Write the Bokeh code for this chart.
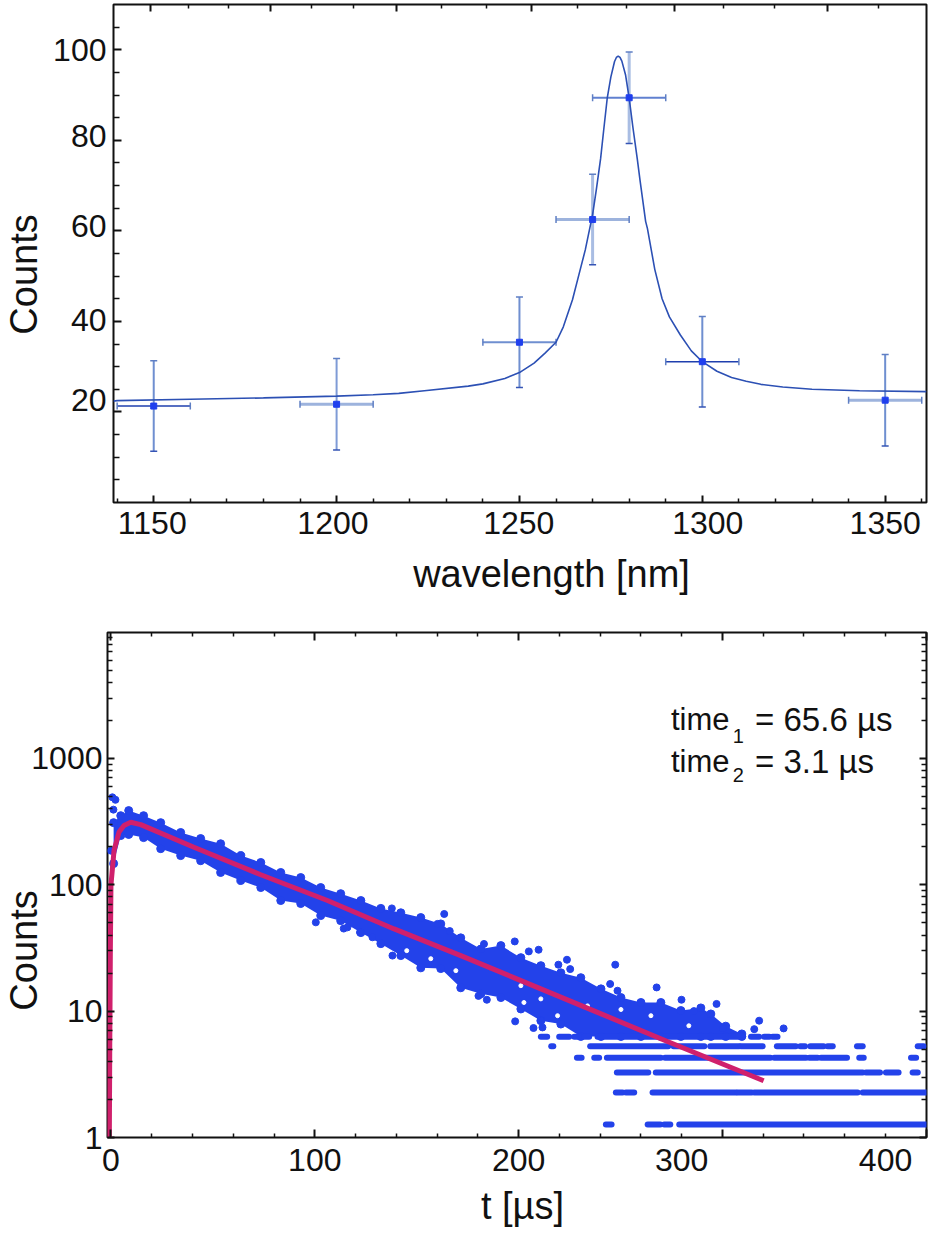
from bokeh.embed import file_html
from bokeh.resources import INLINE
from bokeh.plotting import figure
from bokeh.layouts import column
from bokeh.models import (ColumnDataSource, FixedTicker, LinearAxis, LogAxis, Label, Whisker, TeeHead,
                          BasicTickFormatter, CustomLabelingPolicy)

# ---------- top panel data ----------
wl = [1150, 1200, 1250, 1270, 1280, 1300, 1350]
cnt = [21.3, 21.7, 35.4, 62.5, 89.4, 31.1, 22.6]
cnt_err = [10.0, 10.1, 10.0, 10.0, 10.1, 10.0, 10.1]
wl_err = [10, 10, 10, 10, 10, 10, 10]
fit_wl = [1139, 1140, 1160, 1180, 1200, 1210, 1217, 1224, 1236, 1240, 1246, 1250, 1254, 1257, 1260, 1262, 1264.5, 1266,
          1268, 1270, 1271, 1272.2, 1273, 1274, 1275, 1276, 1276.5, 1277, 1277.5, 1278, 1279, 1280, 1281, 1282.2, 1283, 1284.5,
          1285, 1287, 1289, 1291, 1294, 1297, 1300, 1304, 1308, 1312, 1316, 1322, 1330, 1343, 1361.3]
fit_cnt = [22.4, 22.5, 22.8, 23.1, 23.5, 23.8, 24.1, 24.7, 25.7, 26.2, 27.4, 28.7, 30.8, 33, 35.4, 38.8, 44.8, 49.5,
           55.8, 63.6, 69, 76, 82, 89.3, 94, 97.4, 98.3, 98.6, 98.3, 97.5, 94.5, 89.3, 83, 76, 71, 62.1,
           60.5, 51.5, 45, 41, 37, 33.5, 31.1, 29, 27.6, 26.8, 26.1, 25.5, 25, 24.7, 24.5]
wl_major = [1150, 1200, 1250, 1300, 1350]
wl_minor = [1140, 1160, 1170, 1180, 1190, 1210, 1220, 1230, 1240, 1260, 1270, 1280, 1290, 1310, 1320, 1330, 1340, 1360]
wl_top_major = [1149.1, 1181.9, 1216.4, 1253.3, 1292.4, 1334.3]
wl_top_minor = [1159.5, 1170.4, 1193.1, 1204.6, 1228.7, 1241, 1265.9, 1279.3, 1305.9, 1319.8, 1348.3]
wl_labels = {1149.6: "1150", 1199: "1200", 1249.8: "1250", 1301.5: "1300", 1350: "1350"}
cnt_major = [20, 40, 60, 80, 100]
cnt_minor = [5, 10, 15, 25, 30, 35, 45, 50, 55, 65, 70, 75, 85, 90, 95, 105]
cnt_labels = {100: "100", 81: "80", 61: "60", 40.3: "40", 22.6: "20"}

# ---------- bottom panel data ----------
band_t = [1.3, 4.8, 8.7, 16, 24.4, 34.2, 44, 53.8, 63.7, 73.5, 83.3, 93.1, 102.9, 112.7, 122.6, 132.4, 142.2, 152,
          161.8, 171.6, 181.5, 191.3, 201.1, 210.9, 220.7, 230.5, 240.4, 250.2, 260, 269.8, 279.6, 289.4, 294.3,
          301.6, 309.5]
band_hi = [310, 352, 386, 352, 310, 259, 232, 211, 170, 150, 125, 114, 95, 85, 75, 65, 60, 55,
           49, 38, 31, 33, 26.5, 22.9, 20.1, 18.4, 15, 12.8, 11.7, 11.7, 10.1, 10.6, 9.5, 7.6, 6.6]
band_lo = [147, 245, 250, 236, 193, 170, 155, 125, 108, 95, 75, 71, 57, 52, 41.8, 34.2, 27.5, 22,
           21.7, 15.3, 13.7, 12.8, 10.4, 8.4, 7.9, 6.3, 6.3, 6.3, 6.3, 6.3, 6.3, 6.3, 6.3, 6.3, 6.3]
out_t = [0.7, 2.2, 1.2, 0.0, 100.5, 114.2, 116, 122.2, 128.3, 137.8, 138.1, 160.2, 163.5, 166.2, 180.3, 183, 184.4,
         198.1, 198.3, 205, 207.3, 209.8, 211.7, 219.5, 223.7, 225.3, 244.9, 247.4, 248.5, 267.7, 279.9, 286, 297.1,
         300.1, 315.6, 318, 330]
out_c = [492, 470, 393, 186, 50.4, 45, 46, 42, 38.4, 65, 27.5, 49, 58.7, 43, 13.2, 34, 12.3,
         35.6, 8.3, 29.7, 7.35, 30.6, 7.43, 23.3, 25.5, 21.5, 16.4, 23.3, 14.5, 15.4, 12.3, 10, 11.4,
         7.3, 7.2, 8.4, 7.3]
gap_t = [145.1, 156.9, 169.2, 201.1, 202.6, 210.9, 219.1, 233.8, 250.2, 264.9, 283.5]
gap_c = [30.1, 26, 20.9, 15.9, 11.7, 12.5, 9.2, 11, 10.3, 9.2, 7.66]
row_levels = [1.27, 2.27, 3.27, 4.27, 5.27, 6.27]
row_1 = [(242.8, 245.6), (263.3, 269.5), (271.4, 274.4), (278.8, 400)]
row_2 = [(247.7, 251), (252.6, 256.7), (265.7, 306.6), (307.4, 314.3), (315.6, 366.3), (368.8, 400)]
row_3 = [(248.2, 263.6), (267.3, 368.8), (370.4, 377.3), (380.2, 386.4), (393.3, 395.8)]
row_4 = [(228.6, 230.9), (237.1, 239.5), (243.3, 269.8), (271.8, 323.5), (325.4, 341), (342.6, 346.7), (348.3, 361.1),
         (367.1, 369.3), (392.5, 395)]
row_5 = [(216, 217), (235.1, 273.4), (276, 291.1), (294, 308.2), (309, 319.7), (326.7, 336), (338.2, 340.5), (343.1, 349.6),
         (351.6, 354.1), (366, 368.8), (395.8, 398.7)]
row_6 = [(210.9, 214), (219.9, 224.8), (227.3, 230.5), (232.2, 234.6), (238.7, 309.9), (314, 318), (320.5, 323), (324.6, 327)]
rows = [row_1, row_2, row_3, row_4, row_5, row_6]
red_t = [-0.8, -0.6, -0.3, 0.0, 1.5, 3.9, 6.4, 9.7, 14.6, 40.7, 73.5, 106.2, 138.9, 171.6, 210.9, 238.7, 273, 320.2]
red_c = [1, 5, 30, 100, 186, 260, 294, 312, 299, 198, 120, 75, 44.7, 27.5, 15, 9.77, 5.75, 2.81]
t_major = [0, 100, 200, 300, 400]
t_minor = [20, 40, 60, 80, 120, 140, 160, 180, 220, 240, 260, 280, 320, 340, 360, 380]
t_labels = {0: "0", 100: "100", 200: "200", 280: "300", 380: "400"}
c_major = [1, 10, 100, 1000]
c_minor = [m * d for d in (1, 10, 100, 1000) for m in (2, 3, 4, 5, 6, 7, 8, 9)]
c_labels = {1: "1", 10: "10", 100: "100", 1000: "1000"}
FONT = "Liberation Sans"
BLUE = "#2342ea"
INK = "#111111"

HIDE = CustomLabelingPolicy(code="try { for (const i of [...indices]) indices.unset(i); return indices; } catch (e) { return []; }")


def blank_axis(ax, maj, mnr, maj_len, mnr_len):
    ax.ticker = FixedTicker(ticks=maj, minor_ticks=mnr)
    ax.formatter = BasicTickFormatter()
    ax.major_tick_in = maj_len
    ax.major_tick_out = 0
    ax.minor_tick_in = mnr_len
    ax.minor_tick_out = 0
    ax.major_tick_line_width = 2
    ax.minor_tick_line_width = 1.5
    ax.major_tick_line_color = INK
    ax.minor_tick_line_color = INK
    ax.axis_line_color = None
    ax.major_label_policy = HIDE
    ax.major_label_text_font_size = "1px"
    ax.major_label_standoff = 0


def label_axis(ax, labels, standoff):
    ax.ticker = FixedTicker(ticks=list(labels.keys()))
    ax.formatter = BasicTickFormatter()
    ax.major_label_overrides = labels
    ax.major_tick_line_color = None
    ax.minor_tick_line_color = None
    ax.axis_line_color = None
    ax.major_tick_in = 0
    ax.major_tick_out = 0
    ax.minor_tick_in = 0
    ax.minor_tick_out = 0
    ax.major_label_text_font = FONT
    ax.major_label_text_font_size = "32px"
    ax.major_label_text_color = INK
    ax.major_label_standoff = standoff
    ax.major_label_orientation = "horizontal"


TITLE = dict(text_font=FONT, text_font_size="38px", text_color=INK, text_baseline="middle", text_align="center",
             x_units="canvas", y_units="canvas")

# ---------- top panel ----------
p1 = figure(width=938, height=610, x_range=(1139, 1361.3), y_range=(0, 110), output_backend="svg",
            toolbar_location=None, min_border_left=113, min_border_right=12, min_border_top=3, min_border_bottom=108,
            frame_align=False)
p1.grid.visible = False
p1.outline_line_color = INK
p1.outline_line_width = 2
blank_axis(p1.xaxis[0], wl_major, wl_minor, 7, 4)
blank_axis(p1.yaxis[0], cnt_major, cnt_minor, 8, 6)
top = LinearAxis()
blank_axis(top, wl_top_major, wl_top_minor, 7, 4)
p1.add_layout(top, "above")
xl = LinearAxis()
label_axis(xl, wl_labels, 5)
p1.add_layout(xl, "below")
yl = LinearAxis()
label_axis(yl, cnt_labels, 2)
p1.add_layout(yl, "left")
p1.add_layout(Label(x=551, y=573, text="wavelength [nm]", **TITLE), "below")
p1.add_layout(Label(x=23, y=274, text="Counts", angle=90, angle_units="deg", **TITLE), "left")

src = ColumnDataSource(dict(
    x=wl, y=cnt,
    ylo=[a - b for a, b in zip(cnt, cnt_err)], yhi=[a + b for a, b in zip(cnt, cnt_err)],
    xlo=[a - b for a, b in zip(wl, wl_err)], xhi=[a + b for a, b in zip(wl, wl_err)],
))
src.data["hc"] = ["#1f3fae", "#9db3dd", "#6f8fd0", "#9db3dd", "#6080d0", "#1f3fae", "#9db3dd"]
src.data["hw"] = [1.6, 3, 2, 3, 2, 1.6, 3]
src.data["vc"] = ["#6f8fd0", "#7f9bd6", "#6f8fd0", "#a9bde3", "#a9bde3", "#6f8fd0", "#6f8fd0"]
src.data["vw"] = [2, 2, 2, 3, 3, 2, 2]
p1.add_layout(Whisker(source=src, base="y", lower="xlo", upper="xhi", dimension="width",
                      line_color={"field": "hc"}, line_width={"field": "hw"},
                      upper_head=TeeHead(size=7, line_color="#5f7fc4", line_width=1.5),
                      lower_head=TeeHead(size=7, line_color="#5f7fc4", line_width=1.5)))
p1.add_layout(Whisker(source=src, base="x", lower="ylo", upper="yhi", dimension="height",
                      line_color={"field": "vc"}, line_width={"field": "vw"},
                      upper_head=TeeHead(size=7, line_color="#5f7fc4", line_width=1.5),
                      lower_head=TeeHead(size=7, line_color="#3554b5", line_width=1.5)))
p1.line(fit_wl, fit_cnt, line_color="#2c50b4", line_width=1.6)
p1.scatter(wl, cnt, marker="square", size=6, color="#1f3fee")

# ---------- bottom panel ----------
SHIFT = 15
p2 = figure(width=938 + 2 * SHIFT, height=627, x_range=(-1.7, 400.1), y_range=(1, 9908), y_axis_type="log", output_backend="svg",
            toolbar_location=None, min_border_left=107 + SHIFT, min_border_right=12, min_border_top=22, min_border_bottom=100,
            frame_align=False, margin=(0, 0, 0, -SHIFT))
p2.grid.visible = False
p2.outline_line_color = INK
p2.outline_line_width = 2
blank_axis(p2.xaxis[0], t_major, t_minor, 8, 4)
blank_axis(p2.yaxis[0], c_major, c_minor, 7, 5)
top2 = LinearAxis()
blank_axis(top2, t_major, t_minor, 8, 4)
p2.add_layout(top2, "above")
right2 = LogAxis()
blank_axis(right2, c_major, c_minor, 7, 5)
p2.add_layout(right2, "right")
xl2 = LinearAxis()
label_axis(xl2, t_labels, 7)
p2.add_layout(xl2, "below")
yl2 = LogAxis()
label_axis(yl2, c_labels, 0)
p2.add_layout(yl2, "left")
p2.add_layout(Label(x=522 + SHIFT, y=595, text="t [µs]", **TITLE), "below")
p2.add_layout(Label(x=23 + SHIFT, y=340, text="Counts", angle=90, angle_units="deg", **TITLE), "left")

p2.varea(band_t, band_lo, band_hi, color=BLUE)
p2.scatter(band_t, band_hi, marker="circle", size=8, color=BLUE)
p2.scatter(band_t, band_lo, marker="circle", size=8, color=BLUE)
p2.scatter(out_t, out_c, marker="circle", size=7, color=BLUE)
p2.scatter(gap_t, gap_c, marker="circle", size=4, color="white")
for level, spans in zip(row_levels, rows):
    p2.segment([s[0] for s in spans], [level] * len(spans), [s[1] for s in spans], [level] * len(spans),
               line_color=BLUE, line_width=6, line_cap="round")
p2.line(red_t, red_c, line_color="#d0206c", line_width=5)

NOTE = dict(text_font=FONT, text_color=INK, text_baseline="middle")
p2.add_layout(Label(x=274.7, y=2028, text="time", text_font_size="31px", **NOTE))
p2.add_layout(Label(x=274.7, y=944, text="time", text_font_size="31px", **NOTE))
p2.add_layout(Label(x=305, y=1500, text="1", text_font_size="20px", **NOTE))
p2.add_layout(Label(x=305, y=740, text="2", text_font_size="20px", **NOTE))
p2.add_layout(Label(x=316, y=2028, text="= 65.6 µs", text_font_size="33px", **NOTE))
p2.add_layout(Label(x=316, y=944, text="= 3.1 µs", text_font_size="33px", **NOTE))

page = column(p1, p2, margin=(0, 0, 0, 0), spacing=0)
open("out.html", "w").write(file_html(page, INLINE))
